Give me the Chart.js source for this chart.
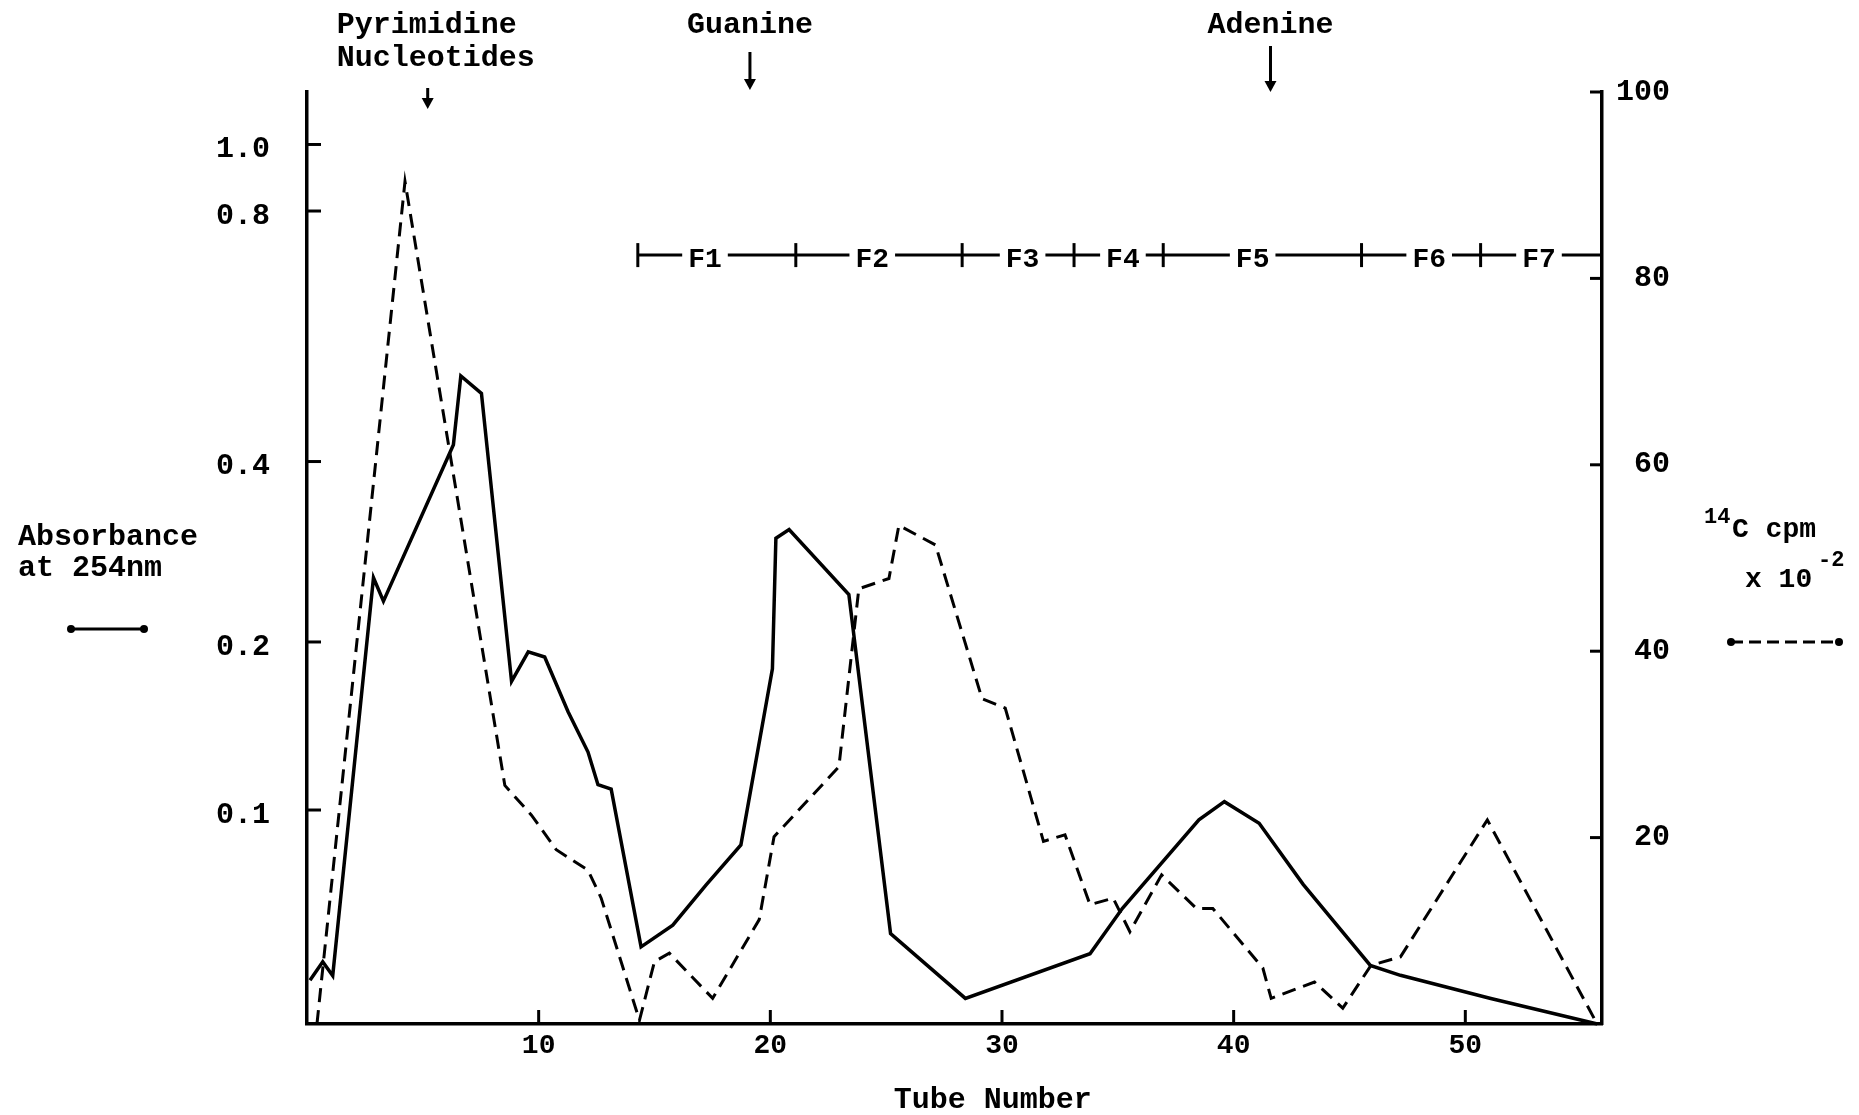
<!DOCTYPE html>
<html>
<head>
<meta charset="utf-8">
<title>Absorbance and 14C cpm by tube number</title>
<script src="https://cdn.jsdelivr.net/npm/chart.js@4.4.0/dist/chart.umd.min.js"></script>
<style>
    html, body { margin: 0; padding: 0; background: #fff; }
    #wrap { width: 1859px; height: 1115px; }
</style>
</head>
<body>
<div id="wrap"><canvas id="theGraph" width="1859" height="1115"></canvas></div>
<script>
// ---- data ----
// solid line: absorbance at 254nm (left axis)
var absTube = [0.13, 0.68, 1.11, 2.87, 3.30, 6.32, 6.64, 7.53, 8.83, 9.55, 10.26, 11.27, 12.13, 12.56, 13.13,
    14.42, 15.79, 17.22, 18.73, 20.09, 20.24, 20.81, 23.39, 25.19, 28.42, 33.80, 35.20, 38.50, 39.60, 41.10,
    43.00, 45.90, 47.20, 51.10, 55.70];
var absValue = [0.0496, 0.0535, 0.0505, 0.256, 0.234, 0.419, 0.507, 0.483, 0.170, 0.192, 0.188, 0.150, 0.127, 0.111, 0.109,
    0.0569, 0.0622, 0.0734, 0.0866, 0.179, 0.298, 0.308, 0.240, 0.0601, 0.0460, 0.0553, 0.0667, 0.0960, 0.1035, 0.0947,
    0.0736, 0.0527, 0.0506, 0.0460, 0.0414];

// dashed line: 14C cpm x 10^-2 (right axis)
var cpmTube = [0.43, 4.23, 8.54, 9.69, 10.76, 12.13, 12.70, 14.35, 15.00, 15.64, 17.51, 19.52, 20.16, 22.96, 23.82,
    25.12, 25.55, 27.13, 29.14, 30.14, 31.79, 32.72, 33.80, 34.80, 35.52, 36.89, 38.39, 39.10, 41.26, 41.62,
    43.49, 44.71, 45.93, 47.20, 50.95, 55.69];
var cpmValue = [0, 90.4, 25.6, 22.4, 18.7, 16.5, 13.5, 0.4, 6.7, 7.6, 2.75, 11.2, 20.1, 27.6, 46.7,
    47.8, 53.5, 51.4, 34.9, 33.9, 19.6, 20.3, 12.8, 13.5, 9.9, 16.0, 12.4, 12.4, 6.0, 2.75,
    4.5, 1.7, 6.3, 7.2, 21.9, 0];

// axis ticks
var tubeTicks = [10, 20, 30, 40, 50];
var absTicks = [0.1, 0.2, 0.4, 0.8, 1.0];
var cpmTicks = [20, 40, 60, 80, 100];

// fractions pooled (tube boundaries), drawn at cpm level 82.5
var fractionEdges = [14.28, 21.10, 28.28, 33.11, 36.96, 45.52, 50.66, 55.9];
var fractionNames = ['F1', 'F2', 'F3', 'F4', 'F5', 'F6', 'F7'];
var fractionNameAt = [17.18, 24.4, 30.89, 35.22, 40.82, 48.44, 53.18];
var fractionLevel = 82.5;

// elution markers
var markerNames = [['Pyrimidine', 'Nucleotides'], ['Guanine'], ['Adenine']];
var markerTube = [5.21, 19.12, 41.59];

var FONT = "'Liberation Mono', 'DejaVu Sans Mono', monospace";

// The absorbance axis is hand-drawn: its marks are not evenly spaced,
// so values are log-interpolated between where each mark sits (fraction of axis height).
var absMarks = [[0.0414, 0], [0.1, 0.2296], [0.2, 0.4099], [0.4, 0.6035], [0.8, 0.8723], [1.0, 0.9437], [1.192, 1]];

class AbsorbanceScale extends Chart.Scale {
    determineDataLimits() {
        this.min = absMarks[0][0];
        this.max = absMarks[absMarks.length - 1][0];
    }
    buildTicks() {
        return absTicks.map(function (v) { return { value: v }; });
    }
    getLabelForValue(value) {
        return value.toFixed(1);
    }
    getPixelForValue(value) {
        var i = 1;
        while (i < absMarks.length - 1 && value > absMarks[i][0]) i++;
        var a = absMarks[i - 1], b = absMarks[i];
        var t = Math.log(value / a[0]) / Math.log(b[0] / a[0]);
        return this.getPixelForDecimal(a[1] + t * (b[1] - a[1]));
    }
    getPixelForTick(index) {
        return this.getPixelForValue(this.ticks[index].value);
    }
    getValueForPixel(pixel) {
        var d = this.getDecimalForPixel(pixel);
        var i = 1;
        while (i < absMarks.length - 1 && d > absMarks[i][1]) i++;
        var a = absMarks[i - 1], b = absMarks[i];
        var t = (d - a[1]) / (b[1] - a[1]);
        return a[0] * Math.pow(b[0] / a[0], t);
    }
}
AbsorbanceScale.id = 'absorbance';
AbsorbanceScale.defaults = {};
Chart.register(AbsorbanceScale);

function seg(ctx, x1, y1, x2, y2) {
    ctx.beginPath();
    ctx.moveTo(x1, y1);
    ctx.lineTo(x2, y2);
    ctx.stroke();
}

function dot(ctx, x, y, r) {
    ctx.beginPath();
    ctx.arc(x, y, r, 0, Math.PI * 2);
    ctx.fill();
}

function arrowDown(ctx, x, top, bottom) {
    ctx.lineWidth = 3;
    seg(ctx, x, top, x, bottom - 6);
    ctx.beginPath();
    ctx.moveTo(x - 6, bottom - 11);
    ctx.lineTo(x + 6, bottom - 11);
    ctx.lineTo(x, bottom);
    ctx.closePath();
    ctx.fill();
}

// tick marks pointing into the plot, fraction bar, markers and side labels
var extras = {
    id: 'extras',
    afterDraw: function (chart) {
        var ctx = chart.ctx;
        var area = chart.chartArea;
        var x = chart.scales.x, yAbs = chart.scales.yAbs, yCpm = chart.scales.yCpm;
        ctx.save();
        ctx.strokeStyle = '#000';
        ctx.fillStyle = '#000';

        ctx.lineWidth = 3;
        x.ticks.forEach(function (t) {
            var px = x.getPixelForValue(t.value);
            seg(ctx, px, area.bottom, px, area.bottom - 14);
        });
        yAbs.ticks.forEach(function (t) {
            var py = yAbs.getPixelForValue(t.value);
            seg(ctx, area.left, py, area.left + 14, py);
        });
        yCpm.ticks.forEach(function (t) {
            var py = yCpm.getPixelForValue(t.value);
            seg(ctx, area.right, py, area.right - 12, py);
        });

        // fraction bar
        var yBar = yCpm.getPixelForValue(fractionLevel);
        var xs = fractionEdges.map(function (v) { return x.getPixelForValue(v); });
        seg(ctx, xs[0], yBar, xs[xs.length - 1], yBar);
        for (var i = 0; i < xs.length - 1; i++) {
            seg(ctx, xs[i], yBar - 12, xs[i], yBar + 12);
        }
        ctx.font = 'bold 28px ' + FONT;
        ctx.textAlign = 'center';
        ctx.textBaseline = 'alphabetic';
        fractionNames.forEach(function (n, k) {
            var px = x.getPixelForValue(fractionNameAt[k]);
            var w = ctx.measureText(n).width;
            ctx.fillStyle = '#fff';
            ctx.fillRect(px - w / 2 - 6, yBar - 6, w + 12, 12);
            ctx.fillStyle = '#000';
            ctx.fillText(n, px, yBar + 12);
        });

        // elution markers
        ctx.font = 'bold 30px ' + FONT;
        markerTube.forEach(function (t, k) {
            var px = x.getPixelForValue(t);
            var lines = markerNames[k];
            if (lines.length === 2) {
                ctx.textAlign = 'left';
                ctx.fillText(lines[0], px - 91, 33);
                ctx.fillText(lines[1], px - 91, 66);
                arrowDown(ctx, px, 88, 109);
            } else {
                ctx.textAlign = 'center';
                ctx.fillText(lines[0], px, 33);
                arrowDown(ctx, px, k === 1 ? 52 : 46, k === 1 ? 90 : 92);
            }
        });

        // x title
        ctx.textAlign = 'center';
        ctx.fillText('Tube Number', x.getPixelForValue(29.6), 1108);

        // left legend
        ctx.textAlign = 'left';
        ctx.fillText('Absorbance', 18, 545);
        ctx.fillText('at 254nm', 18, 576);
        ctx.lineWidth = 3;
        seg(ctx, 71, 629, 144, 629);
        dot(ctx, 71, 629, 4);
        dot(ctx, 144, 629, 4);

        // right legend
        ctx.font = 'bold 22px ' + FONT;
        ctx.fillText('14', 1704, 523);
        ctx.font = 'bold 28px ' + FONT;
        ctx.fillText('C cpm', 1732, 537);
        ctx.fillText('x 10', 1745, 587);
        ctx.font = 'bold 22px ' + FONT;
        ctx.fillText('-2', 1818, 566);
        ctx.setLineDash([12, 6]);
        seg(ctx, 1731, 642, 1839, 642);
        ctx.setLineDash([]);
        dot(ctx, 1731, 642, 4);
        dot(ctx, 1839, 642, 4);

        ctx.restore();
    }
};

var tickFont = { family: FONT, size: 30, weight: 'bold' };

var ctx = document.getElementById('theGraph').getContext('2d');
var theGraph = new Chart(ctx, {
    type: 'line',
    data: {
        datasets: [{
            label: 'Absorbance at 254nm',
            data: absTube.map(function (t, i) { return { x: t, y: absValue[i] }; }),
            yAxisID: 'yAbs',
            borderColor: '#000',
            borderWidth: 3.5,
            borderJoinStyle: 'miter',
            pointRadius: 0,
            tension: 0,
            fill: false
        }, {
            label: '14C cpm x 10^-2',
            data: cpmTube.map(function (t, i) { return { x: t, y: cpmValue[i] }; }),
            yAxisID: 'yCpm',
            borderColor: '#000',
            borderWidth: 3,
            borderDash: [14, 8],
            pointRadius: 0,
            tension: 0,
            fill: false
        }]
    },
    options: {
        responsive: false,
        animation: false,
        devicePixelRatio: 1,
        layout: { padding: { top: 92, right: 189, left: 0, bottom: 0 } },
        plugins: { legend: { display: false }, tooltip: { enabled: false } },
        scales: {
            x: {
                type: 'linear',
                min: 0,
                max: 55.9,
                bounds: 'data',
                afterBuildTicks: function (s) { s.ticks = tubeTicks.map(function (v) { return { value: v }; }); },
                afterFit: function (s) { s.height = 91; },
                grid: { display: false },
                border: { display: true, color: '#000', width: 3.5 },
                ticks: { color: '#000', font: { family: FONT, size: 28, weight: 'bold' }, padding: -3, maxRotation: 0, autoSkip: false }
            },
            yAbs: {
                type: 'absorbance',
                position: 'left',
                afterFit: function (s) { s.width = 307; },
                grid: { display: false },
                border: { display: true, color: '#000', width: 3.5 },
                ticks: {
                    color: '#000', font: tickFont, padding: 29, labelOffset: 5, autoSkip: false,
                    callback: function (v) { return v.toFixed(1); }
                }
            },
            yCpm: {
                type: 'linear',
                position: 'right',
                min: 0,
                max: 100,
                afterBuildTicks: function (s) { s.ticks = cpmTicks.map(function (v) { return { value: v }; }); },
                afterFit: function (s) { s.width = 68; },
                grid: { display: false },
                border: { display: true, color: '#000', width: 3.5 },
                ticks: { color: '#000', font: tickFont, padding: 14, crossAlign: 'far', autoSkip: false }
            }
        }
    },
    plugins: [extras]
});
</script>
</body>
</html>
